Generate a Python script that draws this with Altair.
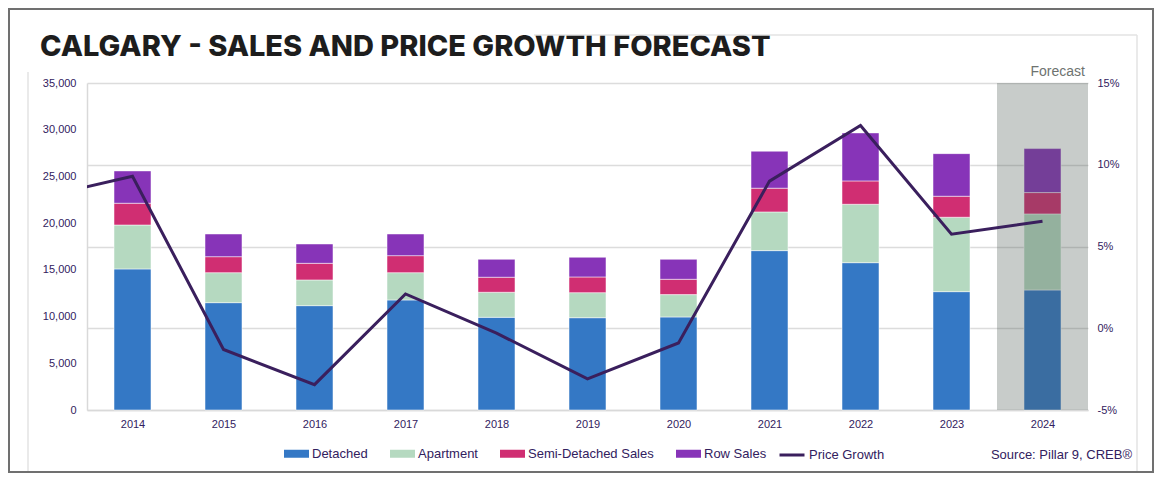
import altair as alt
import pandas as pd

# ---- data ----
years = [2014, 2015, 2016, 2017, 2018, 2019, 2020, 2021, 2022, 2023, 2024]
detached = [15100, 11490, 11170, 11780, 9920, 9880, 9960, 17060, 15770, 12670, 12850]
apartment = [4700, 3210, 2750, 2920, 2680, 2680, 2390, 4140, 6250, 7960, 8140]
semi_detached = [2330, 1710, 1780, 1820, 1610, 1680, 1640, 2540, 2500, 2250, 2280]
row_sales = [3460, 2430, 2070, 2320, 1920, 2110, 2140, 3960, 5140, 4560, 4710]

growth_years = [2013, 2014, 2015, 2016, 2017, 2018, 2019, 2020, 2021, 2022, 2023, 2024]
price_growth = [8.0, 9.3, -1.3, -3.45, 2.1, -0.3, -3.1, -0.9, 9.0, 12.4, 5.75, 6.55]

forecast_years = [2024]

series_names = ["Detached", "Apartment", "Semi-Detached Sales", "Row Sales"]
series_colors = ["#3478c5", "#b5d9c0", "#d02e72", "#8734b8"]
growth_name = "Price Growth"
growth_color = "#3a1f5d"

title_text = "CALGARY - SALES AND PRICE GROWTH FORECAST"
source_text = "Source: Pillar 9, CREB®"

# ---- layout ----
W, H = 1001, 327
PAD_L, PAD_T = 87, 83
TXT = "#32215e"
FONT = "Liberation Sans, Arial, sans-serif"

series_values = [detached, apartment, semi_detached, row_sales]
sales = pd.DataFrame(
    [
        {"year": y, "type": name, "sales": vals[i], "rank": k}
        for k, (name, vals) in enumerate(zip(series_names, series_values))
        for i, y in enumerate(years)
    ]
)
growth = pd.DataFrame({"year": growth_years, "growth": price_growth, "label": growth_name})
forecast = pd.DataFrame({"year": forecast_years, "label": "Forecast"})

x_scale = alt.Scale(domain=[years[0] - 0.5, years[-1] + 0.5], nice=False, zero=False, padding=0)

bars = alt.Chart(sales).mark_bar(
    size=37, stroke="#ffffff", strokeWidth=1, strokeOpacity=0.5
).encode(
    x=alt.X(
        "year:Q",
        scale=x_scale,
        axis=alt.Axis(
            values=years, format="d", grid=False, ticks=False, title=None,
            domainColor="#d9d9d9", domainWidth=1.5, labelColor=TXT, labelFont=FONT,
            labelFontSize=11, labelPadding=8,
        ),
    ),
    y=alt.Y(
        "sales:Q",
        stack="zero",
        scale=alt.Scale(domain=[0, 35000], nice=False),
        axis=alt.Axis(
            values=list(range(0, 35001, 5000)), labelExpr="format(datum.value, ',')",
            grid=False, ticks=False,
            title=None, domainColor="#d9d9d9", domainWidth=1.5, labelColor=TXT,
            labelFont=FONT, labelFontSize=11, labelPadding=11,
        ),
    ),
    color=alt.Color(
        "type:N",
        scale=alt.Scale(domain=series_names, range=series_colors),
        legend=alt.Legend(
            orient="none", direction="horizontal", legendX=197, legendY=358,
            title=None, symbolType="M-1,-0.32L1,-0.32L1,0.32L-1,0.32Z",
            symbolSize=625, symbolStrokeWidth=0, symbolOpacity=1,
            labelFont=FONT, labelFontSize=13, labelColor=TXT,
            labelOffset=3, columnPadding=22,
        ),
    ),
    order=alt.Order("rank:Q"),
)

# grey veil over the forecast year
shade = alt.Chart(forecast).transform_calculate(
    x0="datum.year - 0.5", x1="datum.year + 0.5"
).mark_rect(color="#48554f", opacity=0.3).encode(
    x=alt.X("x0:Q", scale=x_scale),
    x2="x1:Q",
    y=alt.value(0),
    y2=alt.value(H),
)

shade_label = alt.Chart(forecast).transform_calculate(
    x1="datum.year + 0.5"
).mark_text(
    align="right", baseline="alphabetic", font=FONT, fontSize=14,
    color="#6e7370", dx=-3,
).encode(x=alt.X("x1:Q", scale=x_scale), y=alt.value(-7), text="label:N")

line = alt.Chart(growth).mark_line(strokeWidth=3, clip=True).encode(
    x=alt.X("year:Q", scale=x_scale),
    y=alt.Y(
        "growth:Q",
        scale=alt.Scale(domain=[-5, 15], nice=False),
        axis=alt.Axis(
            orient="right", values=[-5, 0, 5, 10, 15], labelExpr="datum.value + '%'",
            grid=True, gridColor="#dcdcdc", gridWidth=1.5, ticks=False, domain=False,
            title=None, labelColor=TXT, labelFont=FONT, labelFontSize=11, labelPadding=9,
        ),
    ),
    stroke=alt.Stroke(
        "label:N",
        scale=alt.Scale(domain=[growth_name], range=[growth_color]),
        legend=alt.Legend(
            orient="none", direction="horizontal", legendX=691, legendY=358,
            title=None, symbolType="stroke", symbolSize=625, symbolStrokeWidth=3,
            labelFont=FONT, labelFontSize=13, labelColor=TXT, labelOffset=3,
        ),
    ),
)

one = pd.DataFrame({"t": [title_text]})

heading = alt.Chart(one).mark_text(
    align="left", baseline="alphabetic", font="Inter, Lato, sans-serif",
    fontSize=29, fontWeight=800, color="#1d1d1d",
).encode(x=alt.value(40 - PAD_L), y=alt.value(56 - PAD_T), text="t:N")

source = alt.Chart(pd.DataFrame({"t": [source_text]})).mark_text(
    align="right", baseline="middle", font=FONT, fontSize=13, color=TXT,
).encode(x=alt.value(1132 - PAD_L), y=alt.value(455 - PAD_T), text="t:N")

frame = alt.Chart(one).mark_rect(
    fillOpacity=0, stroke="#707070", strokeWidth=2
).encode(
    x=alt.value(9 - PAD_L), x2=alt.value(1153 - PAD_L),
    y=alt.value(9 - PAD_T), y2=alt.value(472 - PAD_T),
)

faint = "#e3e3e3"
inner_left = alt.Chart(one).mark_rule(color=faint, strokeWidth=1.5).encode(
    x=alt.value(28 - PAD_L), y=alt.value(72 - PAD_T), y2=alt.value(471 - PAD_T)
)
inner_right = alt.Chart(one).mark_rule(color=faint, strokeWidth=1.5).encode(
    x=alt.value(1137 - PAD_L), y=alt.value(35 - PAD_T), y2=alt.value(471 - PAD_T)
)
inner_top = alt.Chart(one).mark_rule(color=faint, strokeWidth=1.5).encode(
    x=alt.value(534 - PAD_L), x2=alt.value(1137 - PAD_L), y=alt.value(35 - PAD_T)
)

left = alt.layer(bars, shade, shade_label)

chart = alt.layer(
    left, line, heading, source, frame, inner_left, inner_right, inner_top
).resolve_scale(
    y="independent"
).properties(
    width=W, height=H,
    autosize=alt.AutoSizeParams(type="none"),
    padding={"left": PAD_L, "top": PAD_T, "right": 1168 - PAD_L - W, "bottom": 488 - PAD_T - H},
    background="#ffffff",
).configure_view(stroke=None)

chart.save("out.html", embed_options={"renderer": "svg", "actions": False})
